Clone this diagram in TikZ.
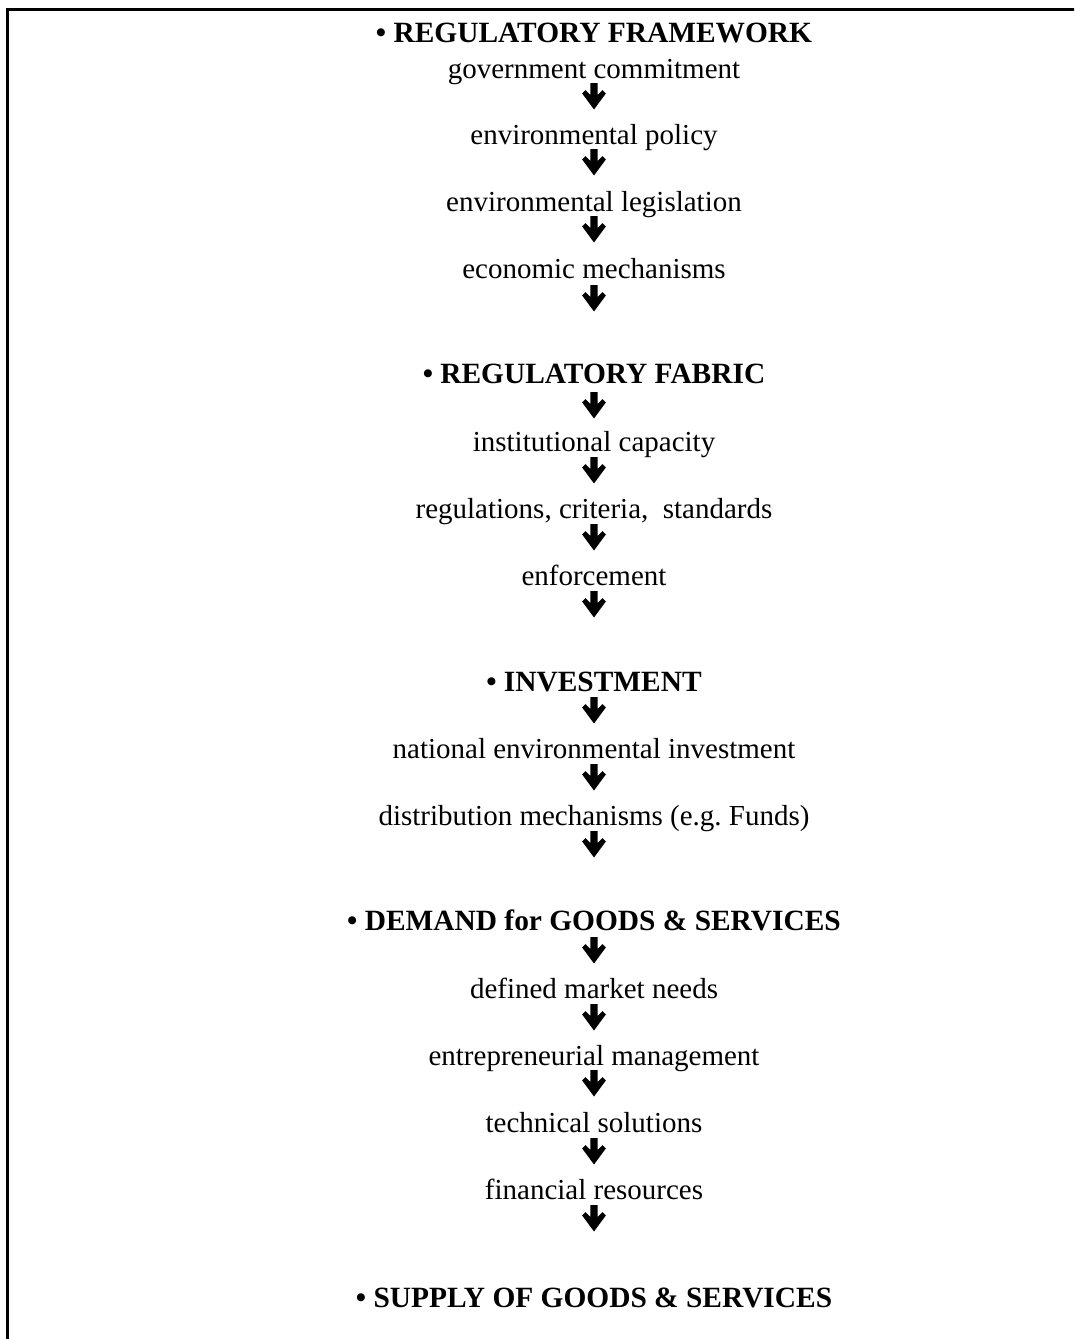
\documentclass[tikz,border=0pt]{standalone}
\usepackage{fontspec}
\setmainfont{Liberation Serif}
\begin{document}
\begin{tikzpicture}[x=1pt,y=-1pt,
  txt/.style={anchor=base,inner sep=0pt,font=\fontsize{29}{34}\selectfont},
  head/.style={txt,font=\fontsize{29.4}{34}\selectfont\bfseries},
  downarr/.pic={\fill[black] (-3.6,0) -- (3.6,0) -- (3.6,12) -- (8.5,7) -- (11.8,10.5) -- (0,26.5) -- (-11.8,10.5) -- (-8.5,7) -- (-3.6,12) -- cycle;}]
\useasboundingbox (0,0) rectangle (1074,1339);
\clip (0,0) rectangle (1074,1339);
\fill[white] (0,0) rectangle (1074,1339);
\draw[line width=2.2pt,line join=miter] (7.5,1345) -- (7.5,9.5) -- (1080,9.5);
\def\cx{594}
% headings and texts
\node[head] (h1) at (\cx,42) {\textbullet\ REGULATORY FRAMEWORK};
\node[txt] (t1) at (\cx,78) {government commitment};
\node[txt] (t2) at (\cx,144) {environmental policy};
\node[txt] (t3) at (\cx,211) {environmental legislation};
\node[txt] (t4) at (\cx,278) {economic mechanisms};
\node[head] (h2) at (\cx,383) {\textbullet\ REGULATORY FABRIC};
\node[txt] (t5) at (\cx,451) {institutional capacity};
\node[txt] (t6) at (\cx,518) {regulations, criteria,~ standards};
\node[txt] (t7) at (\cx,585) {enforcement};
\node[head] (h3) at (\cx,691) {\textbullet\ INVESTMENT};
\node[txt] (t8) at (\cx,758) {national environmental investment};
\node[txt] (t9) at (\cx,825) {distribution mechanisms (e.g.\ Funds)};
\node[head] (h4) at (\cx,930) {\textbullet\ DEMAND for GOODS \& SERVICES};
\node[txt] (t10) at (\cx,998) {defined market needs};
\node[txt] (t11) at (\cx,1065) {entrepreneurial management};
\node[txt] (t12) at (\cx,1132) {technical solutions};
\node[txt] (t13) at (\cx,1199) {financial resources};
\node[head] (h5) at (\cx,1307) {\textbullet\ SUPPLY OF GOODS \& SERVICES};
% arrows
\foreach \n/\y in {a1/83,a2/149,a3/216,a4/285,a5/392,a6/457,a7/524,a8/591,a9/697,a10/764,a11/831,a12/937,a13/1004,a14/1070,a15/1138,a16/1205}{
  \coordinate (\n) at (\cx,\y);
  \pic at (\n) {downarr};
}
\end{tikzpicture}
\end{document}
